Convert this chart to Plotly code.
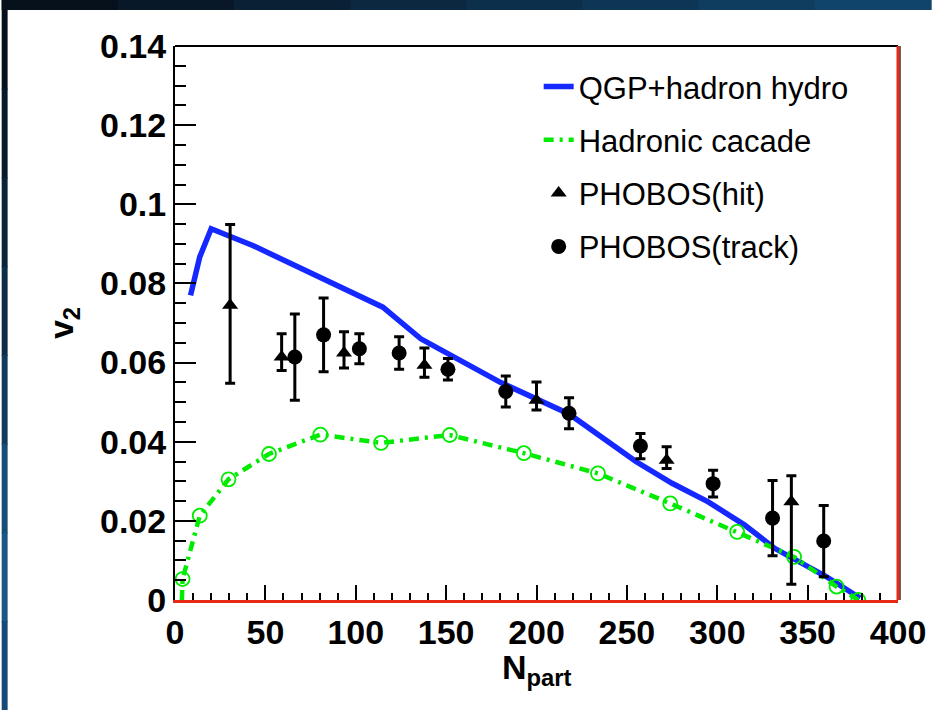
import plotly.graph_objects as go

# QGP + hadron hydro curve
hydro_n = [8.6, 13.7, 20, 43, 115, 136, 156, 180, 218, 255, 275, 295, 315, 332, 360, 379]
hydro_v = [0.077, 0.0867, 0.0938, 0.0896, 0.074, 0.066, 0.061, 0.055, 0.047, 0.035,
           0.0295, 0.0248, 0.019, 0.013, 0.006, 0.0005]

# Hadronic cascade curve (first point is the start on the axis)
cascade_n = [3.8, 4.2, 13.7, 29.6, 52, 80.4, 114, 152, 193, 234, 274, 311, 342.5, 366, 378]
cascade_v = [0.0, 0.0053, 0.0213, 0.0305, 0.0369, 0.0418, 0.0397, 0.0417, 0.0371, 0.032,
             0.0244, 0.0172, 0.0109, 0.0034, 0.0]

# PHOBOS hit-based measurement
hit_n = [30.5, 59, 93.5, 138, 200, 272, 341]
hit_v = [0.0745, 0.0614, 0.0624, 0.0593, 0.0505, 0.0353, 0.0248]
hit_err_up = [0.0204, 0.0059, 0.0054, 0.0044, 0.0046, 0.0034, 0.0066]
hit_err_down = [0.0197, 0.0034, 0.0038, 0.0030, 0.0025, 0.0021, 0.0208]

# PHOBOS track-based measurement
track_n = [66.3, 82.2, 102, 124, 151, 183, 218, 257.5, 297.7, 330.6, 358.9]
track_v = [0.0614, 0.0670, 0.0635, 0.0624, 0.0583, 0.0527, 0.0472, 0.0389, 0.0294, 0.0207, 0.0149]
track_err = [0.0109, 0.0093, 0.0038, 0.0041, 0.0027, 0.0039, 0.0039, 0.0032, 0.0034, 0.0095, 0.0090]

y_ticks = [0, 0.02, 0.04, 0.06, 0.08, 0.1, 0.12, 0.14]
y_tick_text = ["0", "0.02", "0.04", "0.06", "0.08", "0.1", "0.12", "0.14"]
x_ticks = [0, 50, 100, 150, 200, 250, 300, 350, 400]

BLUE = "rgb(20,40,255)"
GREEN = "rgb(0,235,0)"
FONT = "Liberation Sans, Arial, sans-serif"

fig = go.Figure()

fig.add_trace(go.Scatter(
    x=hydro_n, y=hydro_v, mode="lines", name="QGP+hadron hydro",
    line=dict(color=BLUE, width=5.5), legendgroup="a",
))
fig.add_trace(go.Scatter(
    x=cascade_n, y=cascade_v, mode="lines", name="Hadronic cacade",
    line=dict(color=GREEN, width=4.5, dash="10px,6px,3px,6px"), legendgroup="b",
))
fig.add_trace(go.Scatter(
    x=cascade_n[1:], y=cascade_v[1:], mode="markers", showlegend=False,
    marker=dict(symbol="circle-open", size=14, color=GREEN, line=dict(width=1.8, color=GREEN)),
))
fig.add_trace(go.Scatter(
    x=hit_n, y=hit_v, mode="markers", name="PHOBOS(hit)", legendgroup="c",
    marker=dict(symbol="triangle-up", size=14, color="black"),
    error_y=dict(type="data", symmetric=False, array=hit_err_up, arrayminus=hit_err_down,
                 color="black", thickness=3, width=5),
))
fig.add_trace(go.Scatter(
    x=track_n, y=track_v, mode="markers", name="PHOBOS(track)", legendgroup="d",
    marker=dict(symbol="circle", size=15, color="black"),
    error_y=dict(type="data", array=track_err, color="black", thickness=3, width=5),
))

# frame: black top edge, red right edge with a dark shadow
shapes = [
    dict(type="line", xref="paper", yref="paper", x0=0, x1=1, y0=1, y1=1,
         line=dict(color="black", width=2)),
    dict(type="line", xref="paper", yref="paper", x0=1.0027, x1=1.0027, y0=0, y1=1,
         line=dict(color="rgb(90,90,90)", width=2)),
    dict(type="line", xref="paper", yref="paper", x0=1, x1=1, y0=0, y1=1,
         line=dict(color="rgb(230,40,20)", width=3)),
]

# dark slide border along the top and left edges
PW, PH, L, T = 730.0, 554.0, 175.0, 46.0
def px_x(p):
    return (p - L) / PW
def px_y(p):
    return (T + PH - p) / PH

top_cols = ["#06111c", "#081828", "#0a2034", "#0b2840", "#0c2f4b", "#0d3655", "#0f3d5f", "#11446a"]
seg = 938 / len(top_cols)
for i, c in enumerate(top_cols):
    shapes.append(dict(type="rect", xref="paper", yref="paper", layer="above",
                       x0=px_x(i * seg), x1=px_x((i + 1) * seg + 1), y0=px_y(10), y1=px_y(0),
                       line=dict(width=0), fillcolor=c))
left_cols = ["#06111c", "#08192a", "#0a2338", "#0d2e48", "#113b5c", "#174c74", "#1a5686", "#154a78"]
seg = 710 / len(left_cols)
for i, c in enumerate(left_cols):
    shapes.append(dict(type="rect", xref="paper", yref="paper", layer="above",
                       x0=px_x(0), x1=px_x(6), y0=px_y((i + 1) * seg + 1), y1=px_y(i * seg),
                       line=dict(width=0), fillcolor=c))

fig.update_layout(
    width=938, height=710,
    margin=dict(l=175, r=33, t=46, b=110),
    paper_bgcolor="white", plot_bgcolor="white",
    showlegend=True,
    legend=dict(x=0.503, y=0.975, xanchor="left", yanchor="top",
                font=dict(family=FONT, size=31, color="black"),
                bgcolor="rgba(0,0,0,0)", borderwidth=0, tracegroupgap=10),
    shapes=shapes,
    annotations=[dict(
        text="N<sub>part</sub>", xref="paper", yref="paper", x=0.5, y=px_y(646),
        xanchor="center", yanchor="top", showarrow=False,
        font=dict(family=FONT, size=34, color="black", weight="bold"),
    )],
    xaxis=dict(
        range=[0, 400], tickvals=x_ticks, showgrid=False, zeroline=False,
        showline=True, linecolor="rgb(230,40,20)", linewidth=3, mirror=False,
        ticks="inside", ticklen=15, tickwidth=2, tickcolor="black",
        minor=dict(dtick=10, ticks="inside", ticklen=7, tickwidth=2, tickcolor="black"),
        tickfont=dict(family=FONT, size=34, color="black", weight="bold"),
    ),
    yaxis=dict(
        range=[0, 0.14], tickvals=y_ticks, ticktext=y_tick_text, showgrid=False, zeroline=False,
        showline=True, linecolor="black", linewidth=2, mirror=False,
        ticks="inside", ticklen=21, tickwidth=2, tickcolor="black",
        minor=dict(dtick=0.005, ticks="inside", ticklen=11, tickwidth=2, tickcolor="black"),
        tickfont=dict(family=FONT, size=34, color="black", weight="bold"),
        title=dict(text="v<sub>2</sub>", standoff=16,
                   font=dict(family=FONT, size=34, color="black", weight="bold")),
    ),
)

fig.write_html("out.html")
